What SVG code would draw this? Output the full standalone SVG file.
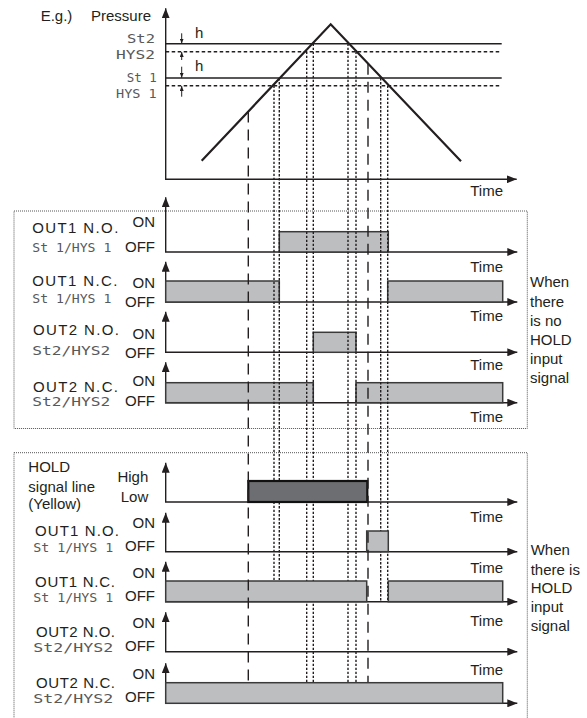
<svg xmlns="http://www.w3.org/2000/svg" width="587" height="718" viewBox="0 0 587 718">
<style>
.t{font-family:"Liberation Sans",Arial,sans-serif;font-size:15px;fill:#231f20}
.e{text-anchor:end}
.s{font-family:"DejaVu Sans Mono",monospace;font-size:12px;fill:#58595b}
.ax{fill:none;stroke:#231f20;stroke-width:1.4}
.bar{fill:#bcbec0;stroke:#3a3a3a;stroke-width:1.5}
.hold{fill:#6d6e71;stroke:#111;stroke-width:2.2}
.dot{stroke:#231f20;stroke-width:1.4;stroke-dasharray:2.4 1.6;fill:none}
.dash{stroke:#231f20;stroke-width:1.4;stroke-dasharray:11 7;fill:none}
.box{fill:none;stroke:#555;stroke-width:1;stroke-dasharray:1 1}
.lvl{stroke:#231f20;stroke-width:1.5}
.hys{stroke:#231f20;stroke-width:1.5;stroke-dasharray:3.5 2.5}
.tri{fill:none;stroke:#231f20;stroke-width:2.2}
.sa{stroke:#231f20;stroke-width:1}
</style>
<defs>
<marker id="ah" viewBox="0 0 10 8" refX="10" refY="4" markerWidth="10" markerHeight="8" markerUnits="userSpaceOnUse" orient="auto-start-reverse"><path d="M0,0 L10,4 L0,8 z" fill="#231f20"/></marker>
<marker id="sm" viewBox="0 0 5 4" refX="5" refY="2" markerWidth="5" markerHeight="4" markerUnits="userSpaceOnUse" orient="auto"><path d="M0,0 L5,2 L0,4 z" fill="#231f20"/></marker>
</defs>

<!-- frames -->
<rect id="box-nohold" class="box" x="14" y="211" width="513.3" height="217.5"/>
<rect id="box-hold" class="box" x="14" y="452.7" width="513.3" height="270"/>

<!-- pressure graph -->
<g id="pressure">
<text class="t" x="40.7" y="20.7">E.g.)</text>
<text class="t" x="91" y="20.7">Pressure</text>
<path class="ax" d="M165.7,8.3 V179.3 H516.7" marker-start="url(#ah)" marker-end="url(#ah)"/>
<line class="lvl" x1="165.7" y1="43.7" x2="501.7" y2="43.7"/>
<line class="hys" x1="165.7" y1="51.7" x2="501.7" y2="51.7"/>
<line class="lvl" x1="165.7" y1="78" x2="501.7" y2="78"/>
<line class="hys" x1="165.7" y1="85.7" x2="501.7" y2="85.7"/>
<path class="tri" d="M201.7,160.7 L330.7,24.3 L461,161.3"/>
<line class="sa" x1="181.7" y1="33.3" x2="181.7" y2="43.5" marker-end="url(#sm)"/>
<line class="sa" x1="181.7" y1="60" x2="181.7" y2="52" marker-end="url(#sm)"/>
<line class="sa" x1="181.7" y1="66.7" x2="181.7" y2="77.8" marker-end="url(#sm)"/>
<line class="sa" x1="181.7" y1="96.7" x2="181.7" y2="86" marker-end="url(#sm)"/>
<text class="t" x="195" y="38">h</text>
<text class="t" x="195" y="70.7">h</text>
<text class="s e" x="155" y="43" textLength="28" lengthAdjust="spacingAndGlyphs">St2</text>
<text class="s e" x="155" y="59" textLength="39" lengthAdjust="spacingAndGlyphs">HYS2</text>
<text class="s e" x="156.7" y="82" textLength="30" lengthAdjust="spacingAndGlyphs">St 1</text>
<text class="s e" x="156.7" y="98" textLength="40.7" lengthAdjust="spacingAndGlyphs">HYS 1</text>
<text class="t e" x="503" y="196">Time</text>
</g>

<!-- upper panels (no HOLD) -->
<g id="u-out1-no">
<path class="ax" d="M165.7,197.3 V252 H517.3" marker-start="url(#ah)" marker-end="url(#ah)"/>
<rect class="bar" x="279.3" y="231.7" width="109" height="20.3"/>
<text class="t" x="32.3" y="233" textLength="86">OUT1 N.O.</text>
<text class="s" x="32.3" y="252" textLength="79" lengthAdjust="spacingAndGlyphs">St 1/HYS 1</text>
<text class="t e" x="155" y="227">ON</text>
<text class="t e" x="155" y="252">OFF</text>
<text class="t e" x="503" y="271.5">Time</text>
</g>
<g id="u-out1-nc">
<path class="ax" d="M165.7,261.7 V302 H517.3" marker-start="url(#ah)" marker-end="url(#ah)"/>
<rect class="bar" x="165.7" y="281" width="113.6" height="21"/>
<rect class="bar" x="387.7" y="281" width="115" height="21"/>
<text class="t" x="32.3" y="286" textLength="85">OUT1 N.C.</text>
<text class="s" x="32.3" y="303" textLength="79" lengthAdjust="spacingAndGlyphs">St 1/HYS 1</text>
<text class="t e" x="155" y="287.7">ON</text>
<text class="t e" x="155" y="306.7">OFF</text>
<text class="t e" x="503" y="321">Time</text>
</g>
<g id="u-out2-no">
<path class="ax" d="M165.7,311.7 V352.3 H517.3" marker-start="url(#ah)" marker-end="url(#ah)"/>
<rect class="bar" x="313.3" y="332.3" width="42.7" height="20"/>
<text class="t" x="33" y="335" textLength="86">OUT2 N.O.</text>
<text class="s" x="32.3" y="355" textLength="78" lengthAdjust="spacingAndGlyphs">St2/HYS2</text>
<text class="t e" x="155" y="339">ON</text>
<text class="t e" x="155" y="358">OFF</text>
<text class="t e" x="503" y="370">Time</text>
</g>
<g id="u-out2-nc">
<path class="ax" d="M165.7,362.3 V402.7 H517.3" marker-start="url(#ah)" marker-end="url(#ah)"/>
<rect class="bar" x="165.7" y="382.7" width="147.6" height="20"/>
<rect class="bar" x="356" y="382.7" width="146.7" height="20"/>
<text class="t" x="33" y="392" textLength="85">OUT2 N.C.</text>
<text class="s" x="32.3" y="405.5" textLength="78" lengthAdjust="spacingAndGlyphs">St2/HYS2</text>
<text class="t e" x="155" y="386">ON</text>
<text class="t e" x="155" y="406">OFF</text>
<text class="t e" x="503" y="421.7">Time</text>
</g>
<g id="note-nohold">
<text class="t" x="530" y="287">When</text>
<text class="t" x="530" y="306.5">there</text>
<text class="t" x="530" y="326">is no</text>
<text class="t" x="530" y="345">HOLD</text>
<text class="t" x="530" y="364">input</text>
<text class="t" x="530" y="383">signal</text>
</g>

<!-- connectors: threshold crossing guides -->
<g id="connectors">
<line class="dot" x1="274" y1="85.7" x2="274" y2="580"/>
<line class="dot" x1="279.3" y1="78" x2="279.3" y2="580"/>
<line class="dot" x1="306.7" y1="51.7" x2="306.7" y2="682.7"/>
<line class="dot" x1="313.3" y1="43.7" x2="313.3" y2="682.7"/>
<line class="dot" x1="348" y1="43.7" x2="348" y2="682.7"/>
<line class="dot" x1="356" y1="51.7" x2="356" y2="682.7"/>
<line class="dot" x1="380.7" y1="78" x2="380.7" y2="601.7"/>
<line class="dot" x1="387.7" y1="85.7" x2="387.7" y2="601.7"/>
</g>

<!-- lower panels (HOLD) -->
<g id="l-hold">
<path class="ax" d="M165.7,462.7 V502 H517.3" marker-start="url(#ah)" marker-end="url(#ah)"/>
<rect class="hold" x="248.3" y="481" width="119" height="21"/>
<text class="t" x="28.3" y="472.3">HOLD</text>
<text class="t" x="28.3" y="491.7">signal line</text>
<text class="t" x="28.3" y="509">(Yellow)</text>
<text class="t e" x="148.3" y="482">High</text>
<text class="t e" x="148.3" y="501.7">Low</text>
<text class="t e" x="503" y="521.7">Time</text>
</g>
<g id="l-out1-no">
<path class="ax" d="M165.7,512.7 V551.7 H517.3" marker-start="url(#ah)" marker-end="url(#ah)"/>
<rect class="bar" x="366.7" y="531" width="21.6" height="20.7"/>
<text class="t" x="35" y="535.7" textLength="84">OUT1 N.O.</text>
<text class="s" x="33.3" y="551.7" textLength="80" lengthAdjust="spacingAndGlyphs">St 1/HYS 1</text>
<text class="t e" x="155" y="528.3">ON</text>
<text class="t e" x="155" y="551">OFF</text>
<text class="t e" x="503" y="573.3">Time</text>
</g>
<g id="l-out1-nc">
<path class="ax" d="M165.7,561.7 V601.7 H517.3" marker-start="url(#ah)" marker-end="url(#ah)"/>
<rect class="bar" x="165.7" y="581" width="201" height="20.7"/>
<rect class="bar" x="388.3" y="581" width="114.4" height="20.7"/>
<text class="t" x="35" y="586.7" textLength="80">OUT1 N.C.</text>
<text class="s" x="33.3" y="601.7" textLength="80" lengthAdjust="spacingAndGlyphs">St 1/HYS 1</text>
<text class="t e" x="155" y="578.3">ON</text>
<text class="t e" x="155" y="601">OFF</text>
<text class="t e" x="503" y="625.7">Time</text>
</g>
<g id="l-out2-no">
<path class="ax" d="M165.7,612.3 V651.7 H517.3" marker-start="url(#ah)" marker-end="url(#ah)"/>
<text class="t" x="36" y="637.3" textLength="79">OUT2 N.O.</text>
<text class="s" x="33.3" y="652.3" textLength="80" lengthAdjust="spacingAndGlyphs">St2/HYS2</text>
<text class="t e" x="155" y="627.7">ON</text>
<text class="t e" x="155" y="651">OFF</text>
<text class="t e" x="503" y="675">Time</text>
</g>
<g id="l-out2-nc">
<path class="ax" d="M165.7,663.3 V703.3 H517.3" marker-start="url(#ah)" marker-end="url(#ah)"/>
<rect class="bar" x="165.7" y="682.7" width="337" height="20.6"/>
<text class="t" x="36" y="688.3" textLength="79">OUT2 N.C.</text>
<text class="s" x="33.3" y="703.3" textLength="80" lengthAdjust="spacingAndGlyphs">St2/HYS2</text>
<text class="t e" x="155" y="679.3">ON</text>
<text class="t e" x="155" y="701.7">OFF</text>
</g>
<g id="note-hold">
<text class="t" x="530.7" y="555">When</text>
<text class="t" x="530.7" y="574.5">there is</text>
<text class="t" x="530.7" y="593.3">HOLD</text>
<text class="t" x="530.7" y="612">input</text>
<text class="t" x="530.7" y="630.5">signal</text>
</g>

<!-- connectors: HOLD edges -->
<g id="hold-connectors">
<line class="dash" x1="248.3" y1="111.4" x2="248.3" y2="682"/>
<line class="dash" x1="368" y1="63.8" x2="368" y2="682"/>
</g>
</svg>
